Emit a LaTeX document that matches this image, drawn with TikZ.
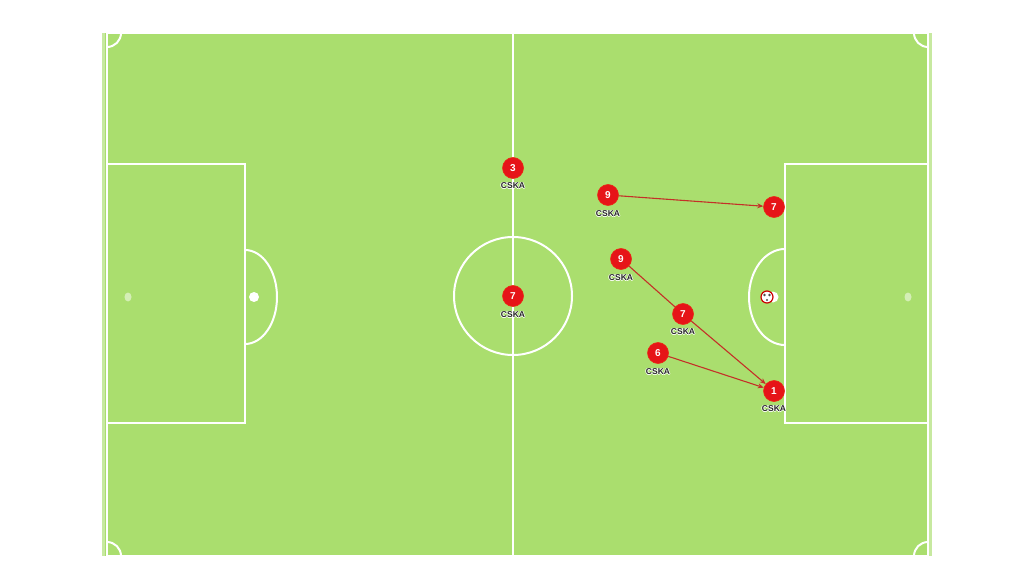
\documentclass[tikz,border=0pt]{standalone}
\usepackage{fontspec}
\setmainfont{Liberation Sans}
\usetikzlibrary{arrows.meta}
\definecolor{grass}{RGB}{170,222,110}
\definecolor{plred}{RGB}{230,20,24}
\definecolor{arr}{RGB}{196,48,40}
\newcommand\halo[1]{\leavevmode\rlap{\color{white}\hspace{-0.8pt}#1}\rlap{\color{white}\hspace{0.8pt}#1}\rlap{\color{white}\raisebox{0.8pt}{#1}}\rlap{\color{white}\raisebox{-0.8pt}{#1}}#1}
\tikzset{
  pline/.style={draw=white, line width=2pt},
  player/.style={circle, fill=plred, draw=plred!80!orange, line width=0.6pt, minimum size=21pt, inner sep=0pt, text=white, font=\fontsize{10}{10}\selectfont\bfseries},
  clab/.style={inner sep=0pt, font=\fontsize{8.5}{8.5}\selectfont\bfseries, text=black!85},
  pass/.style={draw=arr, line width=1.1pt},
  passarr/.style={pass, -{Stealth[length=6pt,width=5pt]}}
}
\begin{document}
\begin{tikzpicture}[x=1pt,y=-1pt]
\useasboundingbox (0,0) rectangle (1024,585);
\fill[white] (0,0) rectangle (1024,585);
% grass
\fill[grass] (102,33) rectangle (932,556);
\fill[white, opacity=0.35] (102,33) rectangle (105,556);
\fill[white, opacity=0.35] (929,33) rectangle (932,556);
% outer lines
\draw[pline] (107,33) rectangle (928,556);
\draw[pline] (513,33) -- (513,556);
\draw[pline] (513,296) circle (59);
% corner arcs
\draw[pline] (121,33) arc (0:-90:14 and -14);
\draw[pline] (914,33) arc (180:270:14 and -14);
\draw[pline] (107,542) arc (90:0:14 and -14);
\draw[pline] (928,542) arc (90:180:14 and -14);
% penalty boxes
\draw[pline] (107,164) rectangle (245,423);
\draw[pline] (928,164) -- (785,164) -- (785,423) -- (928,423);
% penalty arcs
\draw[pline] (245,250) arc (90:-90:32 and -47);
\draw[pline] (785,249) arc (90:270:36 and -48);
% spots
\fill[white, opacity=0.5] (128,297) ellipse (3.5 and 4.5);
\fill[white, opacity=0.5] (908,297) ellipse (3.5 and 4.5);
\fill[white] (254,297) circle (5);
% ball
\fill[white] (773,297) circle (5.5);
\node[circle, draw=red!80!black, fill=white, line width=1.2pt, minimum size=12pt, inner sep=0pt] (ball) at (767,297) {};
\fill[black!70] (764.5,295) circle (1.4) (769.5,295) circle (1.4) (767,300) circle (1.2);
% players
\node[player] (p3) at (513,168) {3};
\node[clab] (l3) at (513,186) {\halo{CSKA}};
\node[player] (p7c) at (513,296) {7};
\node[clab] (l7c) at (513,315) {\halo{CSKA}};
\node[player] (p9a) at (608,195) {9};
\node[clab] (l9a) at (608,214) {\halo{CSKA}};
\node[player] (p7a) at (774,207) {7};
\node[player] (p9b) at (621,259) {9};
\node[clab] (l9b) at (621,278) {\halo{CSKA}};
\node[player] (p7b) at (683,314) {7};
\node[clab] (l7b) at (683,332) {\halo{CSKA}};
\node[player] (p6) at (658,353) {6};
\node[clab] (l6) at (658,372) {\halo{CSKA}};
\node[player] (p1) at (774,391) {1};
\node[clab] (l1) at (774,409) {\halo{CSKA}};
% passes
\draw[passarr] (p9a) -- (p7a);
\draw[pass] (p9b) -- (p7b);
\draw[passarr] (p7b) -- (p1);
\draw[passarr] (p6) -- (p1);
\end{tikzpicture}
\end{document}
